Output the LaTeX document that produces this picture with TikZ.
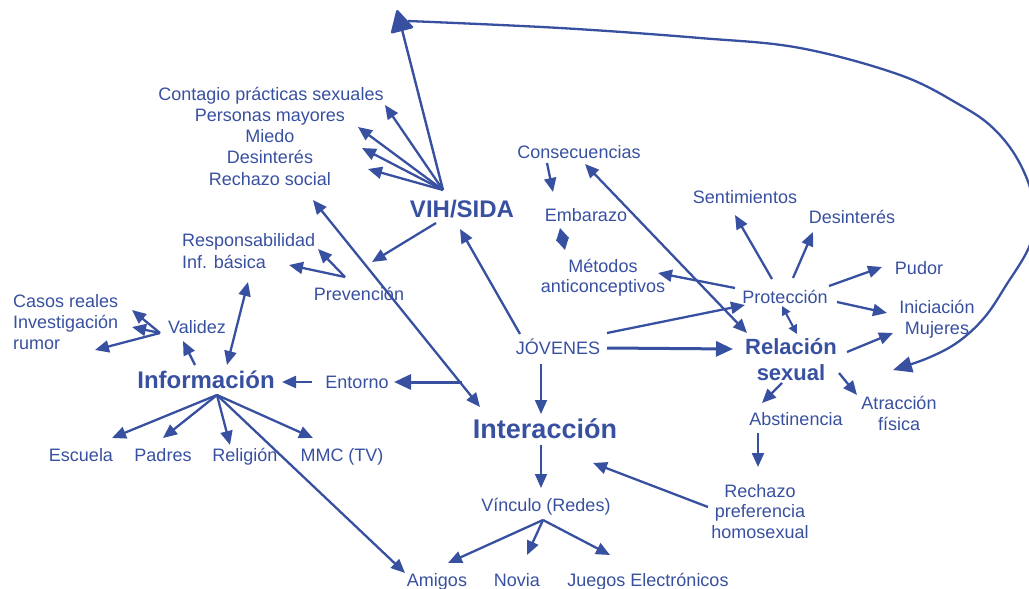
\documentclass[tikz,border=0pt]{standalone}
\usepackage{fontspec}
\setmainfont{Liberation Sans}
\usetikzlibrary{arrows.meta}
\definecolor{cb}{RGB}{56,80,160}
\begin{document}
\begin{tikzpicture}[x=1pt,y=-1pt,
  lbl/.style={text=cb,font=\fontsize{18}{21}\selectfont,inner sep=0pt,anchor=base,align=center},
  hd/.style={lbl,font=\fontsize{24}{26}\selectfont\bfseries},
  arr/.style={draw=cb,line width=2.3pt,-{Triangle[length=14pt,width=12pt]}},
  darr/.style={draw=cb,line width=2.3pt,{Triangle[length=14pt,width=12pt]}-{Triangle[length=14pt,width=12pt]}},
  thick arr/.style={draw=cb,line width=3pt,-{Triangle[length=17pt,width=15pt]}}
]
\useasboundingbox (0,0) rectangle (1029,589);

% ---------- labels ----------
\node[lbl] (contagio) at (271,100) {Contagio prácticas sexuales};
\node[lbl] (personas) at (270,121) {Personas mayores};
\node[lbl] (miedo) at (270,142) {Miedo};
\node[lbl] (desint1) at (270,163) {Desinterés};
\node[lbl] (rechsoc) at (270,185) {Rechazo social};
\node[hd] (vih) at (462,217) {VIH/SIDA};
\node[lbl] (consec) at (579,158) {Consecuencias};
\node[lbl] (embarazo) at (586,221) {Embarazo};
\node[lbl,font=\fontsize{18}{20}\selectfont] (metodos) at (603,292) {Métodos\\anticonceptivos};
\node[lbl] (sentim) at (745,203) {Sentimientos};
\node[lbl] (desint2) at (852,223) {Desinterés};
\node[lbl] (pudor) at (919,274) {Pudor};
\node[lbl] (protec) at (785,303) {Protección};
\node[lbl] (inicia) at (937,334) {Iniciación\\Mujeres};
\node[hd,font=\fontsize{22}{26}\selectfont\bfseries] (relacion) at (791,380) {Relación\\sexual};
\node[lbl] (atrac) at (899,430) {Atracción\\física};
\node[lbl] (abst) at (796,425) {Abstinencia};
\node[lbl,font=\fontsize{18}{20.5}\selectfont] (rechhom) at (760,538) {Rechazo\\preferencia\\homosexual};
\node[lbl] (jovenes) at (558,354) {JÓVENES};
\node[hd,font=\fontsize{27}{28}\selectfont\bfseries] (interac) at (545,438) {Interacción};
\node[lbl] (vinculo) at (546,511) {Vínculo (Redes)};
\node[lbl] (amigos) at (437,586) {Amigos};
\node[lbl] (novia) at (517,586) {Novia};
\node[lbl] (juegos) at (648,586) {Juegos Electrónicos};
\node[hd] (info) at (206,388) {Información};
\node[lbl] (entorno) at (357,388) {Entorno};
\node[lbl] (prevenc) at (359,300) {Prevención};
\node[lbl,align=left,anchor=base west,font=\fontsize{18}{22}\selectfont] (respons) at (182,268) {Responsabilidad\\Inf. básica};
\node[lbl] (validez) at (197,333) {Validez};
\node[lbl,align=left,anchor=base west] (casos) at (13,349) {Casos reales\\Investigación\\rumor};
\node[lbl] (escuela) at (81,461) {Escuela};
\node[lbl] (padres) at (163,461) {Padres};
\node[lbl] (religion) at (245,461) {Religión};
\node[lbl] (mmc) at (342,461) {MMC (TV)};

% ---------- connector points ----------
\coordinate (vihfan) at (443,190);
\coordinate (topT) at (397,10);
\coordinate (loopS) at (408,21);
\coordinate (loopE) at (893,370);
\coordinate (infofan) at (217,395);
\coordinate (validfan) at (160,333);
\coordinate (prevfan) at (345,277);
\coordinate (vincfan) at (543,520);
\coordinate (entS) at (462,382);

% ---------- VIH/SIDA fan ----------
\draw[draw=cb,line width=2.4pt,-{Triangle[length=23pt,width=24pt,round]}] (vihfan) -- (topT);
\draw[arr] (vihfan) -- (385,105);
\draw[arr] (vihfan) -- (358,127);
\draw[arr] (vihfan) -- (362,148);
\draw[arr] (vihfan) -- (368,169);
\draw[draw=cb,line width=2.3pt,-{Triangle[length=19pt,width=16pt]}]
  plot[smooth,tension=0.6] coordinates {(loopS) (560,28) (700,38) (800,48) (900,75) (960,105) (993,128) (1018,160) (1033,200) (1031,242) (1005,287) (984,318) (958,342) (928,358) (loopE)};
\draw[arr] (436,223) -- (372,262);
\draw[arr] (520,334) -- (460,229);
\draw[darr] (313,200) -- (480,407);
\draw[thick arr] (entS) -- (394,382);

% ---------- Informacion ----------
\draw[arr] (312,382) -- (282,382);
\draw[darr] (248,282) -- (227,365);
\draw[arr] (195,365) -- (183,341);
\draw[arr] (validfan) -- (132,310);
\draw[arr] (validfan) -- (132,327);
\draw[arr] (validfan) -- (95,350);
\draw[arr] (prevfan) -- (318,249);
\draw[arr] (prevfan) -- (289,265);
\draw[arr] (infofan) -- (112,438);
\draw[arr] (infofan) -- (163,438);
\draw[arr] (infofan) -- (230,445);
\draw[arr] (infofan) -- (313,438);
\draw[arr] (infofan) -- (405,573);

% ---------- centre ----------
\draw[arr] (547,163) -- (553,192);
\draw[draw=cb,line width=2pt,{Triangle[length=12pt,width=13pt]}-{Triangle[length=12pt,width=13pt]}] (560,228) -- (565,250);
\draw[darr] (585,164) -- (747,333);
\draw[arr] (607,333) -- (745,305);
\draw[arr] (735,288) -- (658,273);
\draw[thick arr] (607,348) -- (733,349);
\draw[arr,line width=1.8pt] (541,364) -- (541,414);
\draw[arr,line width=1.8pt] (541,445) -- (541,488);
\draw[arr] (vincfan) -- (448,563);
\draw[arr] (vincfan) -- (527,555);
\draw[arr] (vincfan) -- (610,555);
\draw[arr] (708,507) -- (593,463);

% ---------- Relacion / Proteccion ----------
\draw[arr] (758,433) -- (758,467);
\draw[arr] (782,383) -- (762,403);
\draw[arr] (839,373) -- (857,395);
\draw[arr] (847,352) -- (893,333);
\draw[draw=cb,line width=2pt,{Triangle[length=9pt,width=9pt]}-{Triangle[length=9pt,width=9pt]}] (782,306) -- (797,334);
\draw[arr] (772,279) -- (735,215);
\draw[arr] (793,278) -- (813,232);
\draw[arr] (829,286) -- (882,267);
\draw[arr] (837,302) -- (887,313);
\end{tikzpicture}
\end{document}
